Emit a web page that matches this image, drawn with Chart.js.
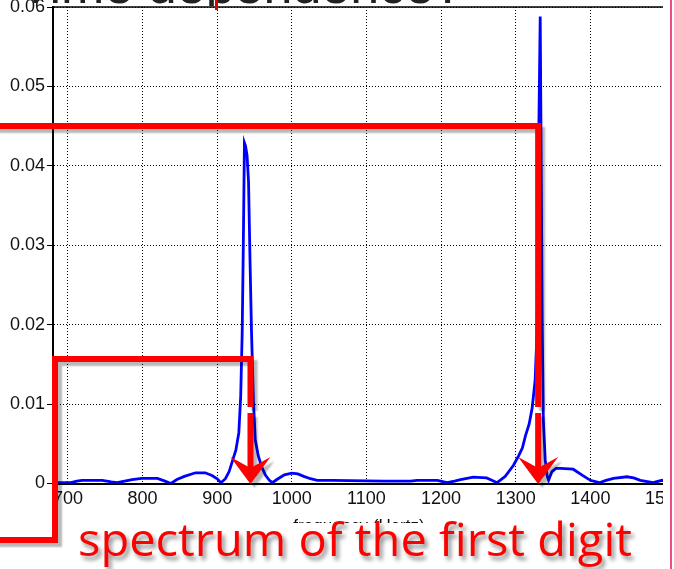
<!DOCTYPE html>
<html lang="en">
<head>
    <meta charset="UTF-8">
    <title>spectrum</title>
    <style type="text/css">
        body{ margin:0; background:#fff; }
        .chartbox{ width:674px; height:569px; overflow:hidden; }
    </style>
    <script src="https://cdn.jsdelivr.net/npm/chart.js@4.4.0/dist/chart.umd.min.js"></script>
</head>
<body>
    <div class="chartbox">
        <canvas id="myChart" width="674" height="569"></canvas>
    </div>

    <script>
    // spectrum (Hz, amplitude)
    const freqs = [680, 690, 704, 712, 719, 746, 758, 766, 776, 786, 799, 820, 830, 838, 846, 856, 871, 884, 893, 900,
        905, 911, 916, 921, 925, 929, 931.5, 933.5, 935, 936.5, 938, 940, 942, 944, 946, 948.5, 951, 955, 960, 965,
        970, 974, 980, 990, 1000, 1008, 1016, 1025, 1034, 1054, 1078, 1123, 1159, 1168, 1195, 1208, 1218, 1226, 1243, 1261,
        1268, 1275, 1286, 1297, 1304, 1309, 1313, 1318, 1322, 1326, 1328.5, 1330, 1331, 1332.8, 1334, 1335.5, 1337, 1339.5, 1342, 1344,
        1348.5, 1354, 1360, 1377, 1390, 1400, 1412, 1421, 1431, 1449, 1458, 1467, 1484, 1496, 1500];
    const amps = [0.0001, 0.0001, 0.0001, 0.0003, 0.0004, 0.0004, 0.0002, 0.0001, 0.0003, 0.0005, 0.00065, 0.00065, 0.0003, 0.0000, 0.0005, 0.0009, 0.00135, 0.00135, 0.0010, 0.0006,
        0.0001, 0.0006, 0.0015, 0.0030, 0.0042, 0.0064, 0.011, 0.019, 0.030, 0.0429, 0.0425, 0.0413, 0.0380, 0.0280, 0.0190, 0.0105, 0.0055, 0.0035, 0.0020, 0.0010,
        0.0004, 0.0001, 0.0005, 0.0011, 0.0013, 0.0012, 0.0009, 0.0006, 0.0004, 0.0004, 0.00035, 0.0003, 0.0003, 0.0004, 0.0004, 0.0001, 0.0003, 0.0005, 0.0008, 0.0007,
        0.0004, 0.0001, 0.0009, 0.0023, 0.0035, 0.0045, 0.0060, 0.0075, 0.0095, 0.0130, 0.0190, 0.0300, 0.0450, 0.0588, 0.0420, 0.0200, 0.0080, 0.0030, 0.0010, 0.0004,
        0.0015, 0.0019, 0.0019, 0.0018, 0.0010, 0.0004, 0.0001, 0.0004, 0.00065, 0.00085, 0.0007, 0.0004, 0.0001, 0.0004, 0.0003];
    const xTicks = [700, 800, 900, 1000, 1100, 1200, 1300, 1400, 1500];
    const yTicks = [0, 0.01, 0.02, 0.03, 0.04, 0.05, 0.06];
    // the two tones the red arrows point at
    const arrowFreqs = [944.6, 1330];

    const tickFont = {family: '"Liberation Sans", Arial, sans-serif', size: 18};

    //overlay: box top, slide leftovers, red callouts
    const overlay = {
        id: 'overlay',
        afterDraw(chart) {
            const ctx = chart.ctx, a = chart.chartArea;
            const xs = chart.scales.x;
            ctx.save();

            ctx.strokeStyle = '#000';
            ctx.lineWidth = 1.5;
            ctx.beginPath();
            ctx.moveTo(a.left, a.top);
            ctx.lineTo(a.right, a.top);
            ctx.stroke();

            // picture is cut on the right
            ctx.fillStyle = '#fff';
            ctx.fillRect(663, 0, 20, 569);
            ctx.strokeStyle = '#ee4d86';
            ctx.lineWidth = 2;
            ctx.beginPath();
            ctx.moveTo(671, 0);
            ctx.lineTo(671, 569);
            ctx.stroke();

            // slide title, only its bottom shows
            ctx.save();
            ctx.beginPath();
            ctx.rect(0, 0, 674, 6);
            ctx.clip();
            ctx.fillStyle = '#222';
            ctx.font = '52px "Liberation Sans", Arial, sans-serif';
            ctx.textAlign = 'right';
            ctx.textBaseline = 'alphabetic';
            ctx.fillText('Time dependence?', 463, 3);
            ctx.restore();
            ctx.fillStyle = '#e00000';
            ctx.fillRect(215, 0, 3, 10);

            // white box under the caption hides the axis title
            ctx.fillStyle = '#fff';
            ctx.fillRect(70, 523, 593, 46);

            ctx.shadowColor = 'rgba(0,0,0,0.28)';
            ctx.shadowBlur = 2;
            ctx.shadowOffsetX = 4;
            ctx.shadowOffsetY = 4;
            ctx.strokeStyle = '#ff0000';
            ctx.fillStyle = '#ff0000';
            ctx.lineWidth = 6;
            ctx.lineJoin = 'miter';
            ctx.lineCap = 'butt';

            const x1 = xs.getPixelForValue(arrowFreqs[0]);
            const x2 = xs.getPixelForValue(arrowFreqs[1]);

            ctx.beginPath();
            ctx.moveTo(-5, 540);
            ctx.lineTo(55, 540);
            ctx.lineTo(55, 359);
            ctx.lineTo(x1, 359);
            ctx.lineTo(x1, 407);
            ctx.stroke();

            ctx.beginPath();
            ctx.moveTo(-5, 126);
            ctx.lineTo(x2, 126);
            ctx.lineTo(x2, 407);
            ctx.stroke();

            [x1, x2].forEach(x => {
                ctx.beginPath();
                ctx.moveTo(x, 413);
                ctx.lineTo(x, 472);
                ctx.stroke();
                ctx.beginPath();
                ctx.moveTo(x - 20, 457);
                ctx.lineTo(x, 468);
                ctx.lineTo(x + 20, 457);
                ctx.lineTo(x, 484);
                ctx.closePath();
                ctx.fill();
            });

            // caption
            ctx.shadowColor = 'rgba(0,0,0,0.45)';
            ctx.shadowBlur = 4;
            ctx.shadowOffsetX = 3;
            ctx.shadowOffsetY = 4;
            ctx.font = '46px "Open Sans", sans-serif';
            ctx.textAlign = 'left';
            ctx.textBaseline = 'alphabetic';
            const cap = 'spectrum of the first digit';
            const w = ctx.measureText(cap).width;
            ctx.translate(78, 556);
            ctx.scale(554 / w, 1);
            ctx.fillText(cap, 0, 0);
            ctx.restore();
        }
    };

    //setup block
    const data = {
        datasets: [{
            data: freqs.map((f, i) => ({x: f, y: amps[i]})),
            borderColor: '#0000ff',
            borderWidth: 2.8,
            pointRadius: 0,
            tension: 0,
            fill: false
        }]
    };

    //config block
    const config = {
        type: 'line',
        data,
        options: {
            responsive: false,
            animation: false,
            layout: { padding: {left: 0, right: 9, top: 7, bottom: 0} },
            plugins: { legend: {display: false}, tooltip: {enabled: false} },
            scales: {
                x: {
                    type: 'linear',
                    min: 680,
                    max: 1500,
                    afterBuildTicks: s => { s.ticks = xTicks.map(v => ({value: v})); },
                    afterFit: s => { s.paddingLeft = 0; s.paddingRight = 0; s.height = 85.5; },
                    ticks: {
                        autoSkip: false, maxRotation: 0, padding: 5,
                        color: '#111', font: tickFont,
                        callback: v => String(v)
                    },
                    grid: { color: '#000', lineWidth: 1, drawTicks: false },
                    border: { color: '#000', width: 2, dash: [1, 2] },
                    title: {
                        display: true, text: 'frequency (Hertz)', color: '#111',
                        font: {family: '"Liberation Sans", Arial, sans-serif', size: 17},
                        padding: {top: 0, bottom: 32}
                    }
                },
                y: {
                    min: 0,
                    max: 0.06,
                    afterBuildTicks: s => { s.ticks = yTicks.map(v => ({value: v})); },
                    afterFit: s => { s.paddingTop = 0; s.paddingBottom = 0; s.width = 53; },
                    ticks: {
                        padding: 2, color: '#111', font: tickFont,
                        callback: v => String(v)
                    },
                    grid: { color: '#000', lineWidth: 1, tickLength: 6, tickColor: '#000' },
                    border: { color: '#000', width: 2, dash: [1, 2] }
                }
            }
        },
        plugins: [overlay]
    };

    //render init block
    const myChart = new Chart(
        document.getElementById('myChart'),
        config
    );
    </script>
</body>
</html>
